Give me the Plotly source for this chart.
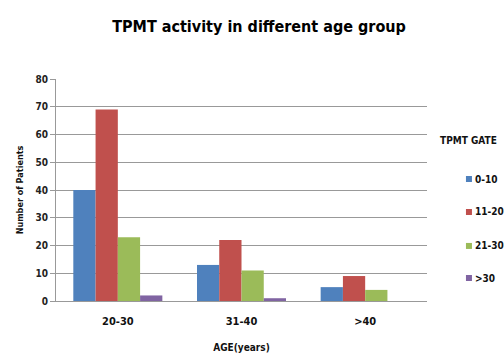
import plotly.graph_objects as go

categories = ["20-30", "31-40", ">40"]
series_names = ["0-10", "11-20", "21-30", ">30"]
values_0_10 = [40, 13, 5]
values_11_20 = [69, 22, 9]
values_21_30 = [23, 11, 4]
values_gt30 = [2, 1, 0]
colors = ["#4F81BD", "#C0504D", "#9BBB59", "#8064A2"]
y_ticks = [0, 10, 20, 30, 40, 50, 60, 70, 80]

FONT = "DejaVu Sans Condensed, Liberation Sans Narrow, Arial, sans-serif"

fig = go.Figure()
for name, vals, col in zip(series_names, [values_0_10, values_11_20, values_21_30, values_gt30], colors):
    fig.add_trace(go.Bar(x=categories, y=vals, name=name, marker=dict(color=col, line=dict(width=0)),
                         showlegend=False))

fig.update_layout(
    width=504, height=354,
    paper_bgcolor="white", plot_bgcolor="white",
    margin=dict(l=56, r=77, t=79, b=53, autoexpand=False),
    barmode="group", bargap=0.28, bargroupgap=0,
    title=dict(text="<b>TPMT activity in different age group</b>", x=0.514, xanchor="center",
               y=0.926, yanchor="middle", font=dict(family=FONT, size=16, color="black")),
    font=dict(family=FONT, color="#1a1a1a"),
    xaxis=dict(showline=True, linecolor="#999999", linewidth=1, ticks="", showgrid=False,
               ticklabelstandoff=10,
               tickfont=dict(size=11, family=FONT, color="#111"),
               title=dict(text="<b>AGE(years)</b>", font=dict(size=10, family=FONT, color="#111"), standoff=16)),
    yaxis=dict(range=[0, 80], tickvals=y_ticks, ticktext=[f"<b>{v}</b>" for v in y_ticks],
               showline=True, linecolor="#999999", linewidth=1,
               ticks="outside", ticklen=5, tickcolor="#999999",
               showgrid=True, gridcolor="#999999", gridwidth=1, zeroline=False,
               tickfont=dict(size=10, family=FONT, color="#222"),
               title=dict(text="<b>Number of Patients</b>", font=dict(size=9, family=FONT, color="#111"), standoff=10)),
)
fig.update_xaxes(ticktext=[f"<b>{c}</b>" for c in categories], tickvals=categories)

# legend drawn as shapes + text, positioned like the original
fig.add_annotation(text="<b>TPMT GATE</b>", xref="paper", yref="paper", x=1.029, y=0.725,
                   xanchor="left", yanchor="middle", showarrow=False,
                   font=dict(size=10, family=FONT, color="#111"))
legend_y = [0.5495, 0.401, 0.248, 0.1036]
sq_w = 6 / 371
sq_h = 6 / 222
sq_x = 1.105
for name, col, ly in zip(series_names, colors, legend_y):
    fig.add_shape(type="rect", xref="paper", yref="paper", x0=sq_x, x1=sq_x + sq_w,
                  y0=ly - sq_h / 2, y1=ly + sq_h / 2, fillcolor=col, line=dict(width=0))
    fig.add_annotation(text=f"<b>{name}</b>", xref="paper", yref="paper",
                       x=sq_x + sq_w + 0.003, y=ly, xanchor="left", yanchor="middle", showarrow=False,
                       font=dict(size=10, family=FONT, color="#111"))

fig.write_html("out.html", config={"displayModeBar": False},
               post_script="document.body.style.margin='0';document.body.style.overflow='hidden';")
